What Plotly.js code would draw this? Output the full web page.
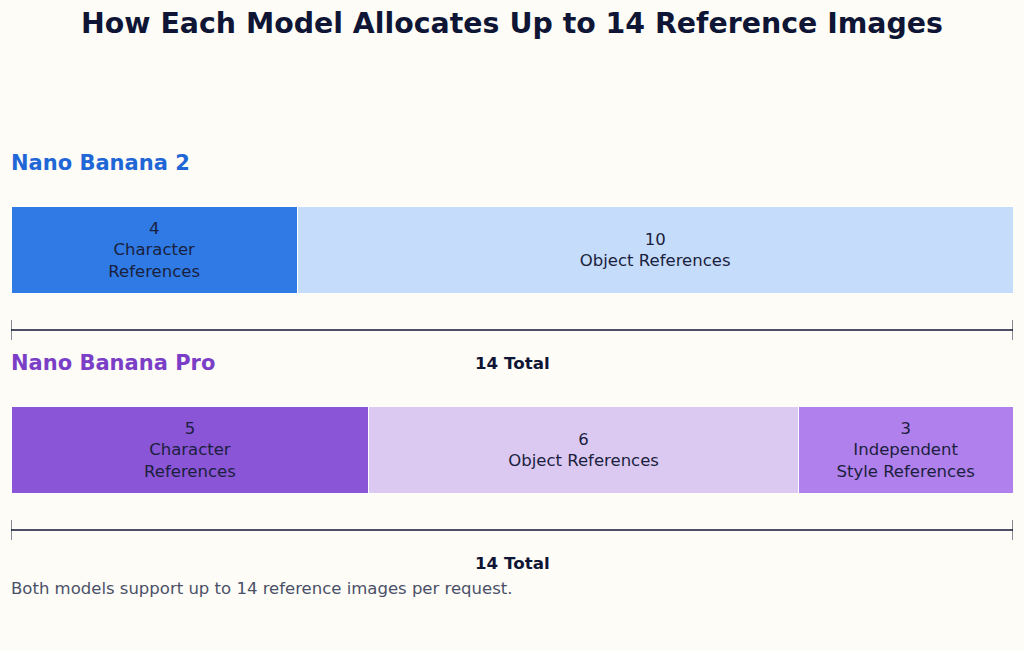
<!DOCTYPE html>
<html>
<head>
<meta charset="utf-8">
<script src="https://cdn.plot.ly/plotly-3.0.1.min.js"></script>
<style>
  html, body { margin:0; padding:0; background:#fdfcf7; }
  #chart { width:1024px; height:651px; }
</style>
</head>
<body>
<div id="chart"></div>
<script>
// data
const models = ["Nano Banana 2", "Nano Banana Pro"];
const nb2Values = [4, 10];
const nb2Labels = ["Character<br>References", "Object References"];
const proValues = [5, 6, 3];
const proLabels = ["Character<br>References", "Object References", "Independent<br>Style References"];
const maxRefs = 14;

// styling
const FONT = "DejaVu Sans, Verdana, sans-serif";
const INK = "#0f1535";
const nb2Colors = ["#2f7ae5", "#c6dcfb"];
const proColors = ["#8a55d6", "#dcc9f2", "#b080ec"];
const titleColors = ["#1f66d6", "#7b3fc7"];

// layout rows (y axis runs top -> bottom in pixel-like units)
const rowY = [250, 450];
const barH = 87;

const rows = [
  {values: nb2Values, labels: nb2Labels, colors: nb2Colors},
  {values: proValues, labels: proLabels, colors: proColors}
];

const traces = [];
const shapes = [];
const annotations = [];

rows.forEach((row, r) => {
  row.values.forEach((v, i) => {
    traces.push({
      type: "bar", orientation: "h",
      x: [v], y: [rowY[r]], width: barH,
      marker: {color: row.colors[i], line: {color: "#ffffff", width: 1}},
      text: [v + "<br>" + row.labels[i]],
      textposition: "inside", insidetextanchor: "middle", textangle: 0,
      constraintext: "none",
      textfont: {family: FONT, size: 16.5, color: "#1a1f3d"},
      hoverinfo: "skip", showlegend: false
    });
  });

  const total = row.values.reduce((a, b) => a + b, 0);
  const by = rowY[r] + 80;
  shapes.push({type: "line", xref: "x", yref: "y", x0: 0, x1: total, y0: by, y1: by,
               line: {color: INK, width: 1.5}});
  shapes.push({type: "line", xref: "x", yref: "y", x0: 0, x1: 0, y0: by - 10, y1: by + 10,
               line: {color: INK, width: 1}});
  shapes.push({type: "line", xref: "x", yref: "y", x0: total, x1: total, y0: by - 10, y1: by + 10,
               line: {color: INK, width: 1}});
  annotations.push({xref: "x", yref: "y", x: total / 2, y: by + 33, text: total + " Total",
                    showarrow: false, xanchor: "center", yanchor: "middle",
                    font: {family: FONT, size: 16.7, color: INK, weight: 700}});

  annotations.push({xref: "paper", yref: "y", x: 0, y: rowY[r] - 87, text: models[r],
                    showarrow: false, xanchor: "left", yanchor: "middle", xshift: -2,
                    font: {family: FONT, size: 21, color: titleColors[r], weight: 700}});
});

annotations.push({xref: "paper", yref: "y", x: 0, y: 588, xshift: -2,
                  text: "Both models support up to " + maxRefs + " reference images per request.",
                  showarrow: false, xanchor: "left", yanchor: "middle",
                  font: {family: FONT, size: 16.5, color: "#4a5068"}});

const layout = {
  width: 1024, height: 651,
  paper_bgcolor: "#fdfcf7", plot_bgcolor: "#fdfcf7",
  margin: {l: 11, r: 11, t: 0, b: 0},
  barmode: "stack", bargap: 0,
  title: {text: "How Each Model Allocates Up to " + maxRefs + " Reference Images",
          x: 0.5, xanchor: "center", y: 0.965, yanchor: "middle",
          font: {family: FONT, size: 28.4, color: INK, weight: 700}},
  xaxis: {range: [0, maxRefs], visible: false, fixedrange: true},
  yaxis: {range: [651, 0], visible: false, fixedrange: true},
  shapes, annotations, showlegend: false
};

Plotly.newPlot("chart", traces, layout, {displayModeBar: false, staticPlot: true});
</script>
</body>
</html>
